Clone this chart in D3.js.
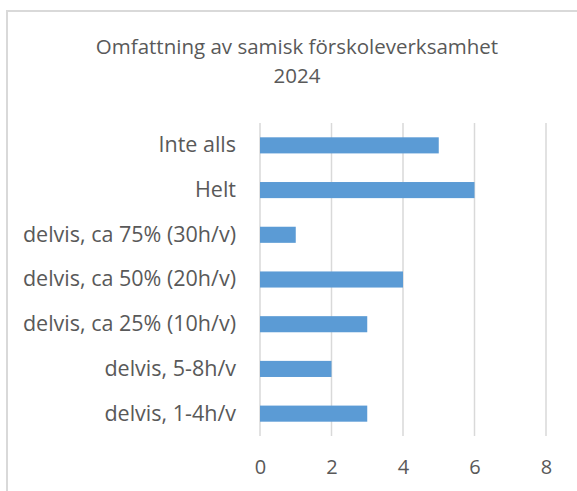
<!DOCTYPE html>
<html>
<head>
<meta charset="utf-8">
<script src="https://cdn.jsdelivr.net/npm/d3@7"></script>
<style>
  body { margin: 0; background: #fff; }
  text { font-family: "Open Sans", sans-serif; fill: #595959; }
</style>
</head>
<body>
<div id="chart"></div>
<script>
// Data (top to bottom)
const categories = ["Inte alls", "Helt", "delvis, ca 75% (30h/v)", "delvis, ca 50% (20h/v)",
                    "delvis, ca 25% (10h/v)", "delvis, 5-8h/v", "delvis, 1-4h/v"];
const values = [5, 6, 1, 4, 3, 2, 3];
const xTicks = [0, 2, 4, 6, 8];
const titleLines = ["Omfattning av samisk förskoleverksamhet", "2024"];

const width = 577, height = 491;
const margin = {top: 123, right: 31, bottom: 55, left: 260};

const svg = d3.select("#chart").append("svg")
    .attr("width", width)
    .attr("height", height);

// chart area border (runs off the right and bottom)
svg.append("rect")
    .attr("x", 7).attr("y", 11)
    .attr("width", 600).attr("height", 500)
    .attr("fill", "none")
    .attr("stroke", "#d9d9d9")
    .attr("stroke-width", 2);

const x = d3.scaleLinear()
    .domain([0, 8])
    .range([margin.left, width - margin.right]);

const y = d3.scaleBand()
    .domain(categories)
    .range([margin.top, height - margin.bottom])
    .paddingInner(0.64)
    .paddingOuter(0.32);

// title
svg.append("g").selectAll("text")
    .data(titleLines)
    .enter().append("text")
    .attr("x", 297)
    .attr("y", (d, i) => 54 + i * 29)
    .attr("text-anchor", "middle")
    .style("font-size", "20.5px")
    .text(d => d);

// gridlines
svg.append("g").selectAll("line")
    .data(xTicks)
    .enter().append("line")
    .attr("x1", d => x(d)).attr("x2", d => x(d))
    .attr("y1", margin.top).attr("y2", height - margin.bottom)
    .attr("stroke", "#d9d9d9")
    .attr("stroke-width", 1.5);

// x axis labels
const xAxis = svg.append("g")
    .attr("transform", `translate(0,${height - margin.bottom})`)
    .call(d3.axisBottom(x).tickValues(xTicks).tickSize(0).tickPadding(24));
xAxis.select(".domain").remove();
xAxis.selectAll("text").style("font-size", "20px").attr("fill", "#595959");

// y axis labels
const yAxis = svg.append("g")
    .attr("transform", `translate(${margin.left},0)`)
    .call(d3.axisLeft(y).tickSize(0).tickPadding(24));
yAxis.select(".domain").remove();
yAxis.selectAll("text").style("font-size", "21.5px").attr("fill", "#595959");

// bars
svg.append("g").selectAll("rect")
    .data(values)
    .enter().append("rect")
    .attr("x", x(0))
    .attr("y", (d, i) => y(categories[i]))
    .attr("width", d => x(d) - x(0))
    .attr("height", y.bandwidth())
    .attr("fill", "#5b9bd5");
</script>
</body>
</html>
